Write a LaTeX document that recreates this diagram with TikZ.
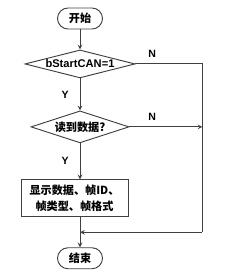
\documentclass[tikz,border=0pt]{standalone}
\usepackage{fontspec}
\setmainfont{Liberation Sans}
\newfontfamily\cjk{Noto Sans CJK SC}
\usetikzlibrary{shapes,arrows,positioning}

\begin{document}
\begin{tikzpicture}[x=0.03cm, y=-0.03cm, node distance=0.6cm, auto,
        term/.style={draw, rounded corners=9pt, minimum width=1.35cm, minimum height=0.63cm, inner sep=1pt, font=\cjk\bfseries\fontsize{9.5}{11}\selectfont},
        decision/.style={diamond, draw, aspect=3.6, inner sep=0pt, font=\bfseries\fontsize{9.5}{11}\selectfont},
        process/.style={rectangle, draw, minimum width=3.21cm, minimum height=1.11cm, align=center, font=\cjk\bfseries\fontsize{9.5}{14}\selectfont},
        lbl/.style={font=\bfseries\fontsize{9}{11}\selectfont},
        arrow/.style={->, >=stealth, line width=0.8pt, draw=black!75},
        line/.style={line width=0.8pt, draw=black!75}]
        \useasboundingbox (0,0) rectangle (235,278);

        \node[term, draw=black!75, line width=0.8pt] (start) at (80,18.5) {开始};
        \node[decision, draw=black!75, line width=0.8pt, minimum width=3.3cm, minimum height=0.84cm, below=0.6cm of start] (canon) {bStartCAN=1};
        \node[decision, draw=black!75, line width=0.8pt, minimum width=2.94cm, minimum height=0.96cm, below=0.96cm of canon, font=\cjk\bfseries\fontsize{9.5}{11}\selectfont] (readok) {读到数据?};
        \node[process, draw=black!75, line width=0.8pt, below=1.08cm of readok, xshift=-0.165cm] (show) {显示数据、帧ID、\\帧类型、帧格式};
        \node[term, draw=black!75, line width=0.8pt, below=0.9cm of show, xshift=0.165cm] (finish) {结束};

        \coordinate[right=2.01cm of canon.east] (edge);
        \coordinate (join) at (show.south -| finish.north);
        \coordinate[below=0.45cm of join] (merge);
        \coordinate (edgelow) at (edge |- merge);

        \draw[arrow] (start) -- (canon);
        \draw[arrow] (canon) -- node[lbl, left=6pt] {Y} (readok);
        \draw[arrow] (readok.south) -- node[lbl, left=6pt] {Y} (readok.south |- show.north);
        \draw[line] (join) -- (merge);
        \draw[arrow] (merge) -- (finish);
        \draw[line] (canon.east) -- node[lbl, pos=0.25, above=2pt] {N} (edge) -- (edgelow);
        \draw[arrow] (edgelow) -- (merge);
        \draw[arrow] (readok.east) -- node[lbl, pos=0.31, above=2pt] {N} (readok.east -| edge);
    \end{tikzpicture}
\end{document}
